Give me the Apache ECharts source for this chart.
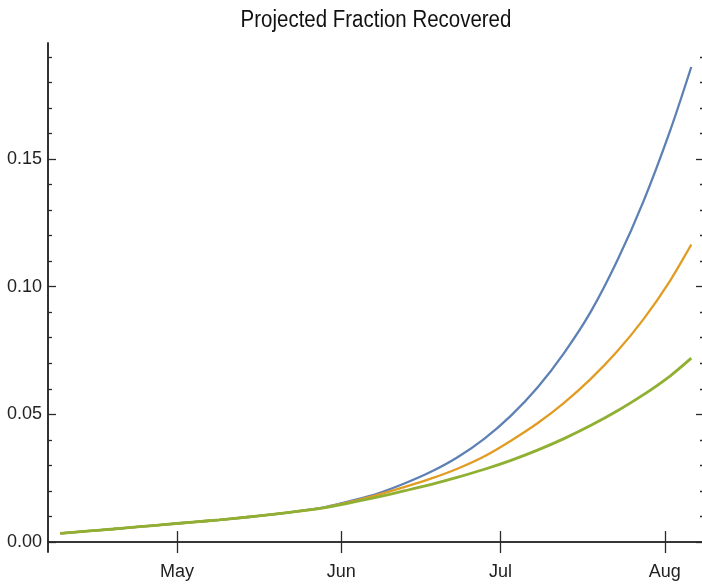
<!DOCTYPE html>
<html>
<head>
<meta charset="utf-8">
<script src="https://cdn.jsdelivr.net/npm/echarts@6/dist/echarts.min.js"></script>
<style>
  html, body { margin: 0; padding: 0; background: #ffffff; }
  #chart { width: 702px; height: 584px; }
</style>
</head>
<body>
<div id="chart"></div>
<script>
// Day numbers counted from 1 April 2020
const days = [8, 13, 18, 23, 28, 33, 38, 43, 48, 53, 58, 63, 68, 73, 78, 83, 88, 93, 98, 103, 108, 113, 118, 123, 127];

// Projected fraction recovered, three scenarios
const seriesBlue   = [0.0034, 0.0043, 0.0051, 0.0060, 0.0069, 0.0078, 0.0087, 0.0097, 0.0108, 0.0121, 0.0137, 0.0162, 0.0191, 0.0230, 0.0276, 0.0333, 0.0405, 0.0495, 0.0605, 0.0740, 0.0900, 0.1100, 0.1335, 0.1610, 0.1860];
const seriesOrange = [0.0034, 0.0043, 0.0051, 0.0060, 0.0069, 0.0078, 0.0087, 0.0097, 0.0108, 0.0121, 0.0136, 0.0159, 0.0186, 0.0216, 0.0249, 0.0288, 0.0336, 0.0397, 0.0465, 0.0545, 0.0638, 0.0746, 0.0873, 0.1023, 0.1165];
const seriesGreen  = [0.0034, 0.0043, 0.0051, 0.0060, 0.0069, 0.0078, 0.0087, 0.0097, 0.0108, 0.0121, 0.0135, 0.0155, 0.0177, 0.0201, 0.0226, 0.0254, 0.0285, 0.0320, 0.0360, 0.0405, 0.0456, 0.0513, 0.0577, 0.0650, 0.0720];

// Month ticks (first day of each month)
const monthTicks  = [30, 61, 91, 122];
const monthLabels = ['May', 'Jun', 'Jul', 'Aug'];

// Fraction ticks
const yMajorTicks = [0, 0.05, 0.10, 0.15];
const yMinorTicks = [0.01, 0.02, 0.03, 0.04, 0.06, 0.07, 0.08, 0.09, 0.11, 0.12, 0.13, 0.14, 0.16, 0.17, 0.18, 0.19];

const titleText = 'Projected Fraction Recovered';

const xMin = 5.68, xMax = 129.4;
const yMin = -0.0039, yMax = 0.1954;

const FONT = '"Liberation Sans", Arial, sans-serif';
const FRAME = { show: true, lineStyle: { color: '#2a2a2a', width: 1.6 } };
const pairs = vals => days.map((d, i) => [d, vals[i]]);

const chart = echarts.init(document.getElementById('chart'), null, { renderer: 'canvas' });

const yAxisBase = (position, showLabels, ticks, len) => ({
  type: 'value', position, min: yMin, max: yMax,
  axisLine: FRAME,
  splitLine: { show: false },
  axisTick: { show: true, inside: true, length: len, customValues: ticks,
              lineStyle: { color: '#2a2a2a', width: 1.3 } },
  axisLabel: showLabels
    ? { show: true, customValues: ticks, margin: 6, color: '#222222',
        fontFamily: FONT, fontSize: 18, formatter: v => v.toFixed(2) }
    : { show: false }
});

const xAxisBase = (position, showLabels) => ({
  type: 'value', position, min: xMin, max: xMax,
  axisLine: FRAME,
  splitLine: { show: false },
  axisTick: { show: true, inside: true, length: 11, customValues: monthTicks,
              lineStyle: { color: '#2a2a2a', width: 1.3 } },
  axisLabel: showLabels
    ? { show: true, customValues: monthTicks, margin: 11, color: '#222222',
        fontFamily: FONT, fontSize: 18,
        formatter: v => monthLabels[monthTicks.indexOf(Math.round(v))] || '' }
    : { show: false }
});

chart.setOption({
  animation: false,
  backgroundColor: '#ffffff',
  // Title drawn as a slightly condensed text element centred over the plot frame
  graphic: [{
    type: 'text', x: 376, y: 20, scaleX: 0.89, scaleY: 1.05,
    style: { text: titleText, fontFamily: FONT, fontSize: 23, fill: '#111111',
             textAlign: 'center', textVerticalAlign: 'middle' }
  }],
  grid: { left: 48, top: 43, width: 656, height: 509, containLabel: false, outerBoundsMode: 'none' },
  xAxis: [
    xAxisBase('bottom', true),
    xAxisBase('top', false)
  ],
  yAxis: [
    yAxisBase('left', true, yMajorTicks, 8),
    yAxisBase('left', false, yMinorTicks, 4),
    yAxisBase('right', false, yMajorTicks, 8),
    yAxisBase('right', false, yMinorTicks, 4)
  ],
  series: [
    { name: 'blue', type: 'line', data: pairs(seriesBlue), xAxisIndex: 0, yAxisIndex: 0,
      smooth: 0.3, symbol: 'none', lineStyle: { color: '#5E81B5', width: 2.3 } },
    { name: 'orange', type: 'line', data: pairs(seriesOrange), xAxisIndex: 0, yAxisIndex: 0,
      smooth: 0.3, symbol: 'none', lineStyle: { color: '#E19C24', width: 2.3 } },
    { name: 'green', type: 'line', data: pairs(seriesGreen), xAxisIndex: 0, yAxisIndex: 0,
      smooth: 0.3, symbol: 'none', lineStyle: { color: '#8FB032', width: 2.8 } }
  ]
});
</script>
</body>
</html>
